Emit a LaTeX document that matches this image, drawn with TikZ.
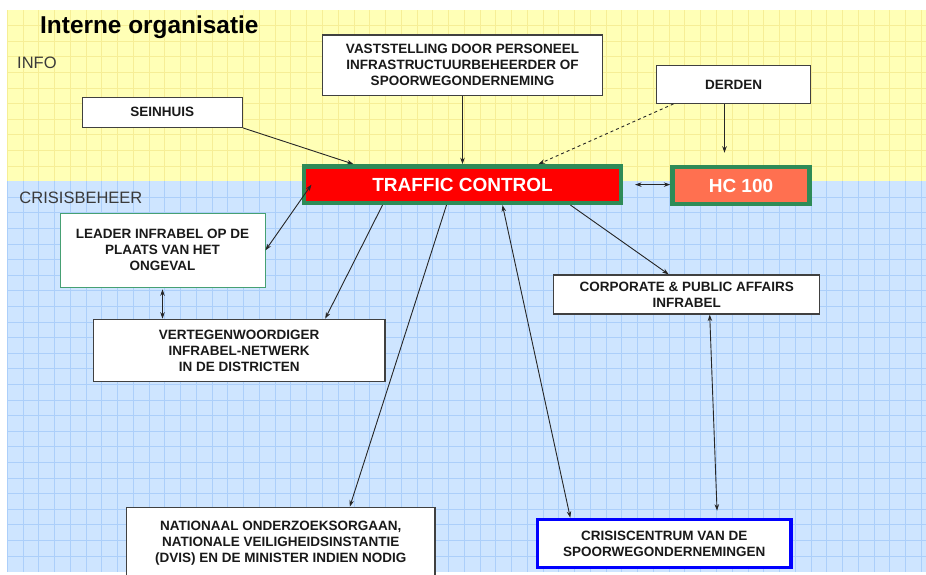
\documentclass[tikz,border=0pt]{standalone}
\usepackage{fontspec}
\setmainfont{Liberation Sans}
\usepackage{tikz}
\usetikzlibrary{arrows.meta,positioning}
\definecolor{infobg}{RGB}{255,255,182}
\definecolor{infogrid}{RGB}{246,238,150}
\definecolor{crisisbg}{RGB}{206,229,255}
\definecolor{crisisgrid}{RGB}{172,207,250}
\definecolor{boxgray}{RGB}{64,64,64}
\definecolor{tcred}{RGB}{255,0,0}
\definecolor{hcorange}{RGB}{255,112,80}
\definecolor{framegreen}{RGB}{46,139,87}
\definecolor{leadergreen}{RGB}{70,160,115}
\definecolor{ccblue}{RGB}{0,0,255}
\definecolor{labelgray}{RGB}{58,58,58}

\begin{document}
\begin{tikzpicture}[x=1pt,y=-1pt]

\tikzset{box/.style={draw=boxgray, line width=1.2pt, fill=white, inner sep=0pt, align=center,
    text=black!90, font=\bfseries\fontsize{13.5}{16}\selectfont},
  mainbox/.style={draw=framegreen, line width=4.5pt, inner sep=0pt, text=white,
    font=\bfseries\fontsize{19}{22}\selectfont},
  zone/.style={anchor=base west, inner sep=0pt, text=labelgray, font=\fontsize{16.5}{19}\selectfont},
  link/.style={draw=black!85, line width=0.9pt, -{Stealth[length=6.5pt,width=4.5pt]}},
  dlink/.style={draw=black!85, line width=0.9pt, {Stealth[length=6.5pt,width=4.5pt]}-{Stealth[length=6.5pt,width=4.5pt]}}}

\useasboundingbox (0,0) rectangle (926,574);
\fill[infobg] (7,10) rectangle (926,181);
\fill[crisisbg] (7,181) rectangle (926,571.5);
\foreach \i in {0,...,58} {
  \draw[infogrid, line width=1pt] (7.3+\i*15.76,10) -- (7.3+\i*15.76,181);
  \draw[crisisgrid, line width=1pt] (7.3+\i*15.76,181) -- (7.3+\i*15.76,571.5);
}
\foreach \j in {1,...,10}
  \draw[infogrid, line width=1pt] (7,10+\j*15.6) -- (926,10+\j*15.6);
\foreach \j in {12,...,35}
  \draw[crisisgrid, line width=1pt] (7,10+\j*15.6) -- (926,10+\j*15.6);

\node[anchor=base west, inner sep=0pt, font=\bfseries\fontsize{24.4}{28}\selectfont] (title) at (40,33.3) {Interne organisatie};
\node[zone] (info) at (17,68.3) {INFO};
\node[zone] (crisis) at (19.3,203.3) {CRISISBEHEER};

\node[box, minimum width=160pt, minimum height=30pt] (seinhuis) at (162.3,112.3) {SEINHUIS};
\node[box, minimum width=279.6pt, minimum height=60.7pt] (vast) at (462.5,65.3)
  {VASTSTELLING DOOR PERSONEEL\\INFRASTRUCTUURBEHEERDER OF\\SPOORWEGONDERNEMING};
\node[box, minimum width=154.4pt, minimum height=37.6pt] (derden) at (733.5,84.5) {DERDEN};
\node[mainbox, fill=tcred, minimum width=316.6pt, minimum height=36.5pt] (tc) at (462.5,184.6) {TRAFFIC CONTROL};
\node[mainbox, fill=hcorange, minimum width=137pt, minimum height=37pt] (hc) at (741,185.5) {HC 100};
\node[box, draw=leadergreen, line width=1pt, minimum width=205pt, minimum height=74pt] (leader) at (162.5,250.3)
  {LEADER INFRABEL OP DE\\PLAATS VAN HET\\ONGEVAL};
\node[box, minimum width=291.7pt, minimum height=62.4pt] (verteg) at (239.2,350.5)
  {VERTEGENWOORDIGER\\INFRABEL-NETWERK\\IN DE DISTRICTEN};
\node[box, minimum width=266pt, minimum height=39pt] (corp) at (686.7,294.5)
  {CORPORATE \& PUBLIC AFFAIRS\\INFRABEL};
\node[box, minimum width=308.3pt, minimum height=72pt] (nat) at (280.8,543.3)
  {NATIONAAL ONDERZOEKSORGAAN,\\NATIONALE VEILIGHEIDSINSTANTIE\\(DVIS) EN DE MINISTER INDIEN NODIG};
\node[box, draw=ccblue, line width=3.5pt, minimum width=253.5pt, minimum height=48pt] (cc) at (664.3,543.5)
  {CRISISCENTRUM VAN DE\\SPOORWEGONDERNEMINGEN};

\draw[link] (seinhuis.south east) -- ([xshift=-109pt]tc.north);
\draw[link] (vast) -- (tc);
\draw[link, dashed] ([xshift=-60pt]derden.south) -- ([xshift=76pt]tc.north);
\draw[link, shorten >=12pt] ([xshift=-9pt]derden.south) -- ([xshift=-9pt]derden.south |- hc.north);
\draw[dlink, shorten <=12pt] (tc.east) -- (tc.east -| hc.west);
\draw[dlink] (leader.east) -- ([xshift=9.5pt]tc.west);
\draw[dlink, shorten <=1.5pt] (leader.south) -- (leader.south |- verteg.north);
\draw[link] ([xshift=-80pt]tc.south) -- ([xshift=86pt]verteg.north);
\draw[link] ([xshift=-16pt]tc.south) -- ([xshift=69pt]nat.north);
\draw[dlink] ([xshift=40pt]tc.south) -- ([xshift=-94pt]cc.north);
\draw[link] ([xshift=108pt]tc.south) -- ([xshift=-18pt]corp.north);
\draw[dlink, shorten >=7pt] ([xshift=23pt]corp.south) -- ([xshift=53pt]cc.north);

\end{tikzpicture}
\end{document}
